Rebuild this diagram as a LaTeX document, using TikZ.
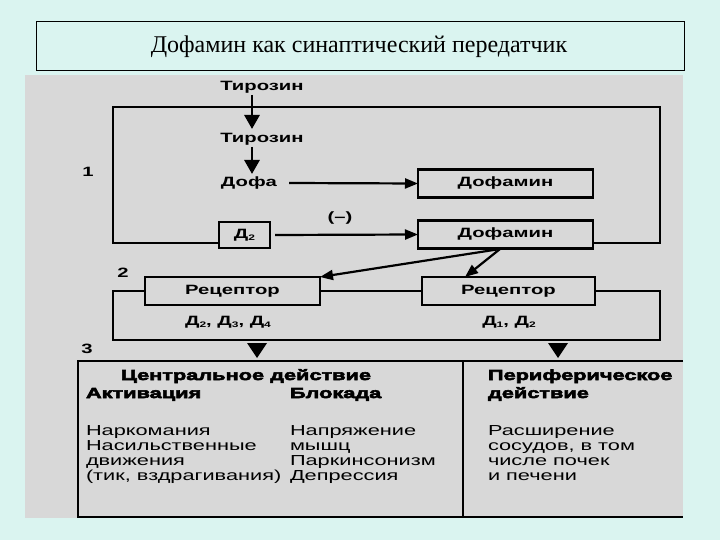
\documentclass[tikz,border=0pt]{standalone}
\usepackage{fontspec}
\usetikzlibrary{arrows.meta}
\setmainfont{Liberation Serif}
\newfontfamily\lab[FakeStretch=1.5]{Liberation Sans}
\newfontfamily\heavy[FakeStretch=1.5,FakeBold=4,UprightFont={* Bold}]{Liberation Sans}
\definecolor{bgc}{RGB}{218,244,240}
\definecolor{panel}{RGB}{216,216,216}
\newcommand{\sbs}[1]{\raisebox{-0.35ex}{\fontsize{8}{9}\selectfont #1}}
\begin{document}
\begin{tikzpicture}[x=1pt,y=-1pt,
  every node/.style={inner sep=0pt,outer sep=0pt},
  txt/.style={font=\lab\fontsize{14.5}{16}\selectfont},
  btxt/.style={font=\lab\bfseries\fontsize{13.5}{15}\selectfont},
  hv/.style={font=\heavy\fontsize{14.5}{16}\selectfont},
  boxn/.style={draw,line width=2.4pt,fill=panel,minimum height=28pt},
  frame/.style={line width=2.4pt},
  arr/.style={line width=2.2pt,-{Triangle[length=13pt,width=10pt]}},
  varr/.style={line width=2.8pt,-{Stealth[length=14pt,width=15pt,inset=0pt]}},
  tri/.style={fill=black}]
\useasboundingbox (0,0) rectangle (720,540);
\fill[bgc] (0,0) rectangle (720,540);
\draw[line width=1pt] (36,22) rectangle (684,71);
\node (title) at (359,47) {\fontsize{24}{27}\selectfont Дофамин как синаптический передатчик};
\fill[panel] (25,75) rectangle (683,518);
% nodes
\node[btxt] (tyr1) at (262,87) {Тирозин};
\node[btxt] (tyr2) at (262,139) {Тирозин};
\node[btxt] (dofa) at (249,183) {Дофа};
\node[boxn,minimum width=175pt,btxt] (dop1) at (505.5,183.5) {Дофамин};
\node[boxn,minimum width=175pt,btxt] (dop2) at (505.5,234.5) {Дофамин};
\node[boxn,minimum width=51pt,minimum height=26pt,btxt] (d2) at (244.5,235) {Д\sbs{2}};
\node[boxn,minimum width=175pt,btxt] (rec1) at (232.5,291) {Рецептор};
\node[boxn,minimum width=173pt,btxt] (rec2) at (508.5,291) {Рецептор};
\node[btxt] (n1) at (88,172) {1};
\node[btxt] (n2) at (123,273) {2};
\node[btxt] (n3) at (87,349) {3};
\node[btxt] (neg) at (340,218) {(–)};
\node[btxt] (dl) at (228,322) {Д\sbs{2}, Д\sbs{3}, Д\sbs{4}};
\node[btxt] (dr) at (509,322) {Д\sbs{1}, Д\sbs{2}};
% frames
\draw[frame] (d2.west |- 0,243) -- (113,243) -- (113,107) -- (660,107) -- (660,243) -- (dop2.east |- 0,243);
\draw[frame] (rec1.west) -- (113,291) -- (113,340) -- (660,340) -- (660,291) -- (rec2.east);
\draw[frame] (rec1.east) -- (rec2.west);
\draw[frame] (683,361) -- (78,361) -- (78,517) -- (683,517);
\draw[frame] (463,361) -- (463,517);
% arrows
\coordinate (v1a) at (252,95);
\coordinate (v1b) at (252,129);
\coordinate (v2a) at (252,147);
\coordinate (v2b) at (252,174);
\draw[varr] (v1a) -- (v1b);
\draw[varr] (v2a) -- (v2b);
\draw[arr] (dofa.east) ++(12,0) coordinate (dofaS) (dofaS) -- (dop1.west);
\draw[arr] (d2.east) ++(5,0) coordinate (d2S) (d2S) -- (dop2.west);
\coordinate (split) at (500,249);
\draw[arr] (split) -- (rec1.north east);
\coordinate (r2in) at (465,277);
\draw[arr] (split) -- (r2in);
% triangles
\coordinate (t1) at (257,358);
\coordinate (t2) at (558,358);
\fill[tri] (t1) -- ++(-10,-15) -- ++(20,0) -- cycle;
\fill[tri] (t2) -- ++(-10,-15) -- ++(20,0) -- cycle;
% bottom text
\node[hv,anchor=base] (central) at (246,380) {Центральное действие};
\node[hv,anchor=base west] (act) at (86,398) {Активация};
\node[hv,anchor=base west] (blok) at (290,398) {Блокада};
\node[hv,anchor=base west] (per1) at (488,380) {Периферическое};
\node[hv,anchor=base west] (per2) at (488,398) {действие};
\node[txt,anchor=base west] (a1) at (86,435) {Наркомания};
\node[txt,anchor=base west] (a2) at (86,450) {Насильственные};
\node[txt,anchor=base west] (a3) at (86,465) {движения};
\node[txt,anchor=base west] (a4) at (86,480) {(тик, вздрагивания)};
\node[txt,anchor=base west] (b1) at (290,435) {Напряжение};
\node[txt,anchor=base west] (b2) at (290,450) {мышц};
\node[txt,anchor=base west] (b3) at (290,465) {Паркинсонизм};
\node[txt,anchor=base west] (b4) at (290,480) {Депрессия};
\node[txt,anchor=base west] (c1) at (488,435) {Расширение};
\node[txt,anchor=base west] (c2) at (488,450) {сосудов, в том};
\node[txt,anchor=base west] (c3) at (488,465) {числе почек};
\node[txt,anchor=base west] (c4) at (488,480) {и печени};
\end{tikzpicture}
\end{document}
